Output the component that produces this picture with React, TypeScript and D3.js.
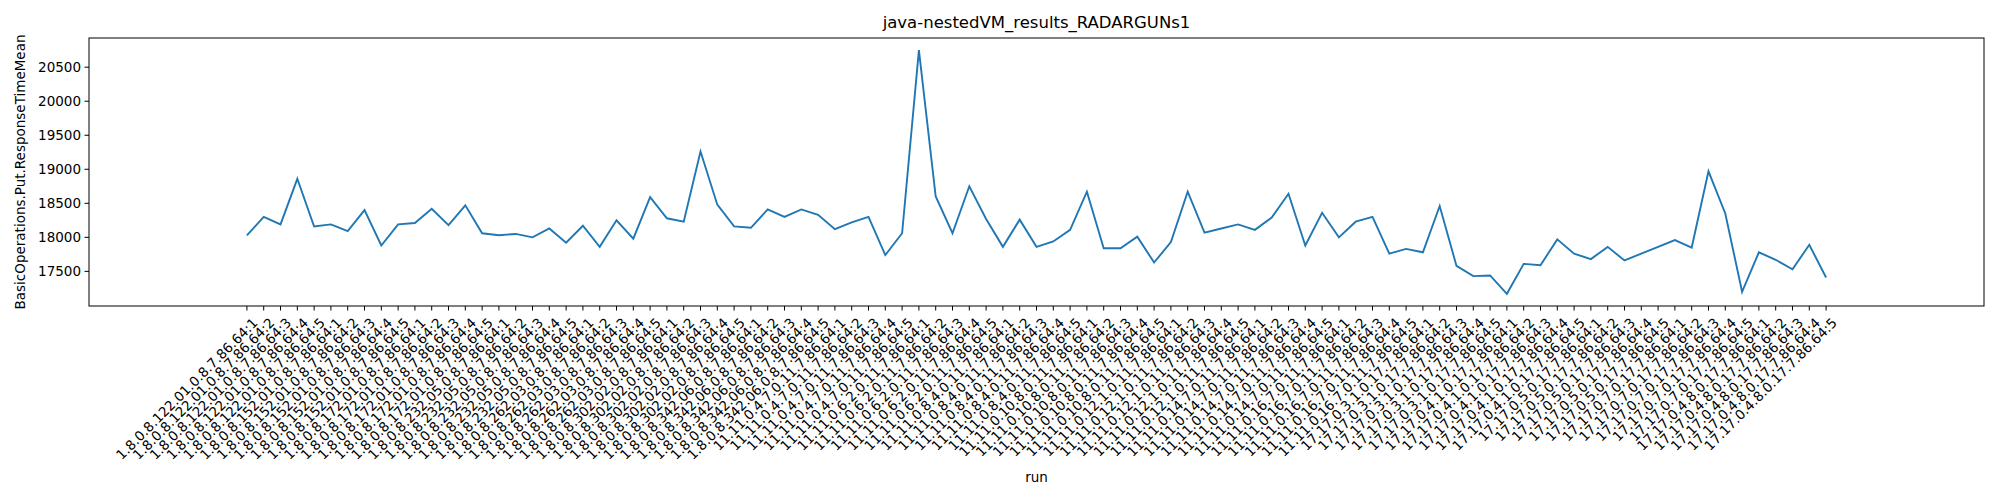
import React from "react";
import * as d3 from "d3";

const versions18 = ["1.8.0.8.122.01","1.8.0.8.152.01","1.8.0.8.172.01","1.8.0.8.232.05","1.8.0.8.262.03","1.8.0.8.302.02","1.8.0.8.342.06"];
const versions11 = ["11.11.0.4.7","11.11.0.6.2","11.11.0.8.4","11.11.0.10.8","11.11.0.12.1","11.11.0.14.7","11.11.0.16.7"];
const versions17 = ["17.17.0.3.1","17.17.0.4.1","17.17.0.5","17.17.0.7","17.17.0.4.8"];
const runs = [1, 2, 3, 4, 5];

const values = [
  18030,18300,18190,18860,18160,18190,18090,18400,17880,18190,
  18210,18420,18180,18470,18060,18030,18050,18000,18130,17920,
  18170,17860,18250,17980,18590,18280,18230,19260,18480,18160,
  18140,18410,18300,18410,18330,18120,18220,18300,17740,18060,
  20750,18600,18060,18750,18270,17860,18260,17860,17940,18110,
  18670,17840,17840,18010,17630,17930,18670,18070,18130,18190,
  18110,18290,18640,17880,18360,18000,18230,18300,17760,17830,
  17780,18460,17580,17430,17440,17170,17610,17590,17970,17760,
  17680,17860,17660,17760,17860,17960,17850,18970,18350,17200,
  17780,17670,17530,17890,17410,
];
const yTicks = [17500, 18000, 18500, 19000, 19500, 20000, 20500];

const labels: string[] = [];
versions18.forEach(v => runs.forEach(r => labels.push(`${v}.0.8.7.86.64:${r}`)));
versions11.forEach(v => runs.forEach(r => labels.push(`${v}.0.11.7.86.64:${r}`)));
versions17.forEach(v => runs.forEach(r => labels.push(`${v}.0.17.7.86.64:${r}`)));

export default function App() {
  const W = 2000, H = 500;
  const L = 89, R = 1984, T = 38, B = 306;
  const n = values.length;
  const x = d3.scaleLinear().domain([-9.4, n - 1 + 9.4]).range([L, R]);
  const mn = d3.min(values)!, mx = d3.max(values)!;
  const pad = (mx - mn) * 0.05;
  const y = d3.scaleLinear().domain([mn - pad, mx + pad]).range([B, T]);
  const line = d3.line<number>().x((_, i) => x(i)).y(d => y(d));
  const font = "DejaVu Sans, sans-serif";
  return (
    <svg width={W} height={H} style={{ position: "absolute", left: 0, top: 0 }} fontFamily={font}>
      <rect width={W} height={H} fill="white" />
      <text x={(L + R) / 2} y={28} textAnchor="middle" fontSize={16.5}>java-nestedVM_results_RADARGUNs1</text>
      <path d={line(values)!} fill="none" stroke="#1f77b4" strokeWidth={1.9} />
      <rect x={L} y={T} width={R - L} height={B - T} fill="none" stroke="black" strokeWidth={1} />
      {yTicks.map(t => (
        <g key={t}>
          <line x1={L - 4.5} x2={L} y1={y(t)} y2={y(t)} stroke="black" />
          <text x={L - 8} y={y(t)} dy="0.35em" textAnchor="end" fontSize={13.5}>{t}</text>
        </g>
      ))}
      {labels.map((lab, i) => (
        <g key={i}>
          <line x1={x(i)} x2={x(i)} y1={B} y2={B + 4.5} stroke="black" />
          <text transform={`translate(${x(i) + 5},${B + 11}) rotate(-45)`} textAnchor="end" dy="0.7em" fontSize={13.5}>{lab}</text>
        </g>
      ))}
      <text x={(L + R) / 2} y={482} textAnchor="middle" fontSize={13.5}>run</text>
      <text transform={`translate(25,${(T + B) / 2}) rotate(-90)`} textAnchor="middle" fontSize={13.5}>BasicOperations.Put.ResponseTimeMean</text>
    </svg>
  );
}
